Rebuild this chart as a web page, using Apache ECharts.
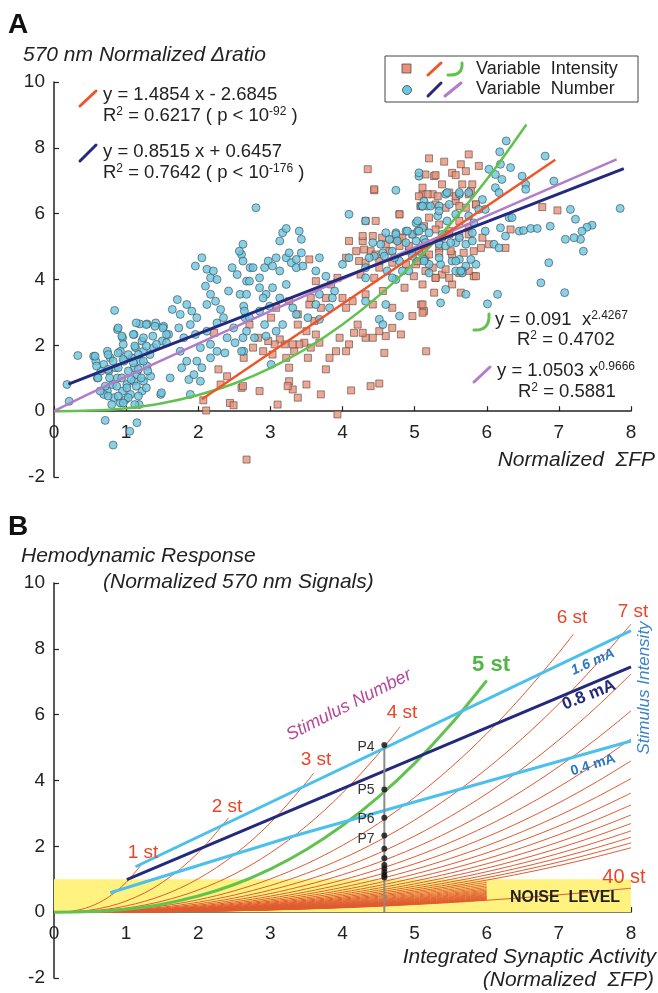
<!DOCTYPE html>
<html>
<head>
<meta charset="utf-8">
<script src="https://cdn.jsdelivr.net/npm/echarts@6/dist/echarts.min.js"></script>
<style>
  html, body { margin: 0; padding: 0; background: #fff; }
  #main { width: 658px; height: 993px; }
</style>
</head>
<body>
<div id="main"></div>
<script>
// ---------- panel A : measured points ----------
// Variable Intensity (squares)
const squarePts = [
  [2.22,2.38],[2.28,1.27],[2.63,1.62],[2.07,0.33],[2.11,0.02],[2.31,0.81],[2.44,0.25],[2.49,0.18],[2.60,0.71],[2.67,-1.47],[2.40,1.06],
  [4.35,7.35],[4.44,6.71],[5.11,6.59],[4.46,5.78],[4.79,5.98],[3.54,4.61],[4.05,4.66],[4.09,5.17],[4.28,5.17],[4.19,4.86],
  [4.23,4.56],[4.39,4.86],[4.51,4.56],[4.60,5.07],[4.79,5.27],[4.92,4.86],[5.02,4.46],[4.86,3.75],[5.09,3.24],[4.97,2.89],
  [5.13,3.04],[5.16,1.82],[4.58,1.77],[4.81,2.33],[4.69,2.53],[4.60,2.28],[4.51,2.43],[4.42,2.23],[4.32,2.23],[4.28,2.38],
  [4.21,2.63],[4.16,2.38],[4.09,2.03],[4.05,1.82],[3.96,2.23],[3.91,1.82],[3.82,1.62],[3.77,1.27],[3.68,2.08],[3.63,2.33],
  [3.61,2.74],[3.56,1.93],[3.50,2.43],[3.47,2.08],[3.52,1.62],[3.54,3.24],[3.70,3.14],[3.77,3.44],[3.84,3.85],[3.93,4.05],
  [4.00,3.44],[4.05,3.14],[4.14,3.34],[4.32,3.55],[4.42,3.24],[4.56,3.65],[4.69,3.14],[3.40,2.03],[3.33,1.82],[3.31,2.03],
  [3.26,1.32],[3.22,1.62],[3.20,2.03],[3.13,2.18],[3.03,1.72],[3.06,2.03],[2.97,2.13],[2.90,1.82],[2.83,2.23],[2.76,1.93],
  [2.71,2.63],[3.01,2.84],[3.08,3.14],[3.26,3.34],[3.38,2.63],[3.50,0.81],[3.38,0.41],[3.31,0.66],[3.26,0.91],[3.24,0.76],
  [3.10,0.20],[2.85,0.61],[2.62,0.76],[3.70,0.51],[4.12,0.63],[4.39,0.76],[4.51,0.84],[3.93,-0.10],[3.63,3.95],[3.56,3.44],
  [3.38,2.94],
  [5.20,7.68],[5.41,7.58],[5.75,7.80],[5.64,7.50],[5.52,7.24],[5.89,7.45],[5.27,7.14],[5.15,7.19],[5.11,6.79],[5.25,6.59],
  [5.38,6.89],[5.48,6.64],[5.66,6.89],[5.78,6.69],[5.57,6.38],[5.43,6.18],[5.29,6.28],[5.71,6.18],[5.85,6.28],[5.62,5.78],
  [5.48,5.47],[5.34,5.67],[5.20,5.88],[5.75,5.57],[5.94,5.27],[6.03,5.07],[6.26,4.96],[6.33,5.52],[5.92,4.96],[5.52,4.76],
  [5.34,4.96],[5.15,4.66],[5.25,4.36],[5.38,4.15],[5.29,4.05],[5.52,3.85],[5.82,4.10],[5.64,3.60],[5.27,3.60],[5.11,3.85],
  [6.77,6.20],[6.98,6.10],[5.11,3.24],[5.11,2.99],
  [5.29,7.17],[5.57,7.17],[5.71,7.29],[5.06,6.53],[5.18,6.59],[5.32,6.53],[5.57,6.53],[5.75,6.59],[4.44,6.74],[4.79,5.98],
  [4.32,5.78],[5.08,6.23],[5.62,6.23],[5.85,6.28],[5.80,6.89],[4.28,5.32],[4.42,5.32],[4.55,5.27],[4.69,5.22],[4.83,5.27],
  [4.97,5.37],[5.13,5.62],[5.29,5.52],[5.48,5.37],[5.62,5.32],[5.75,5.37],[4.30,4.91],[4.46,4.76],[4.65,4.86],[4.79,5.02],
  [4.92,5.02],[5.06,4.86],[5.20,4.76],[5.34,4.81],[5.50,4.86],[5.68,4.81],[5.82,4.86],[4.32,4.51],[4.51,4.36],[4.69,4.51],
  [4.88,4.46],[5.04,4.56],[5.15,4.26],[5.43,4.31],[5.62,4.20],[5.75,4.26],[4.25,4.15],[4.44,4.05],[4.99,4.10],[5.29,4.05],
  [5.48,4.05],[5.85,4.10]
];
// Variable Number (circles)
const circlePts = [
  [0.18,0.81],[0.21,0.30],[0.33,1.69],[0.55,1.67],[0.58,1.52],[0.71,-0.28],[0.82,-1.03],[0.84,3.06],[0.88,2.48],[0.74,1.82],
  [0.78,1.62],[0.69,1.42],[0.65,1.22],[0.60,1.01],[0.76,1.22],[0.85,1.32],[0.92,1.82],[0.95,2.23],[0.97,1.52],[0.88,1.01],
  [0.81,0.81],[0.74,0.61],[0.83,0.41],[0.92,0.25],[0.99,0.35],[1.06,0.51],[1.01,0.81],[1.11,0.91],[1.15,1.11],[1.11,1.32],
  [1.08,1.62],[1.13,1.93],[1.11,2.33],[1.19,2.65],[1.29,2.65],[1.22,2.13],[1.24,1.82],[1.20,1.52],[1.29,1.37],[1.34,1.06],
  [1.24,0.91],[1.18,0.20],[1.15,-0.35],[1.05,-0.61],[1.22,0.61],[0.95,0.61],[0.69,0.51],[1.41,2.68],[1.38,1.93],[1.48,0.51],
  [1.52,2.58],[1.59,2.33],[1.61,1.01],[1.50,2.13],[1.64,3.09],[1.71,3.39],[1.75,2.94],[1.73,2.53],[1.80,2.23],[1.75,1.82],
  [1.77,1.32],[1.84,1.52],[1.87,0.96],[1.89,0.51],[1.94,1.11],[1.84,3.24],[1.91,3.04],[1.98,2.84],[1.89,2.63],[1.96,2.33],
  [2.03,1.93],[1.98,1.52],[2.05,1.32],[2.03,0.91],[1.96,4.41],[2.05,4.66],[2.12,4.31],[2.17,4.05],[2.21,4.26],[2.26,4.00],
  [2.10,3.80],[2.17,3.55],[2.24,3.34],[2.12,3.24],[2.31,3.09],[2.35,2.84],[2.26,2.68],[2.12,2.43],[2.17,2.03],[2.26,1.82],
  [2.17,1.62],[2.40,2.23],[2.37,1.77],[2.49,2.53],[2.51,2.08],[2.63,1.82],[2.54,4.15],[2.47,4.36],[2.60,4.76],[2.67,3.95],
  [2.58,3.55],[2.63,3.19],[2.65,2.84],[2.72,4.36],[2.42,3.65],
  [0.89,2.53],[1.14,2.68],[1.28,2.63],[1.40,2.58],[1.51,2.53],[0.94,2.28],[1.10,2.33],[1.24,2.23],[1.37,2.28],[1.56,2.33],
  [0.96,2.03],[1.12,1.98],[1.28,1.98],[1.42,2.03],[1.56,2.08],[0.57,1.67],[0.75,1.72],[0.89,1.77],[1.03,1.72],[1.17,1.72],
  [1.33,1.72],[0.82,1.52],[0.96,1.57],[1.10,1.47],[1.24,1.52],[0.75,1.27],[0.89,1.32],[1.03,1.22],[1.17,1.27],[1.30,1.22],
  [0.61,1.01],[0.77,1.01],[0.94,1.01],[1.07,0.96],[1.21,1.01],[0.71,0.76],[0.87,0.76],[1.01,0.71],[1.14,0.76],[1.28,0.71],
  [1.49,0.56],[0.75,0.46],[0.89,0.46],[1.03,0.41],[1.17,0.46],[0.80,0.20],[0.96,0.25],[1.12,0.20],[0.64,0.61],[0.59,1.37],
  [2.80,6.18],[3.17,5.42],[3.22,5.55],[3.13,5.17],[3.40,5.47],[3.43,5.22],[2.62,5.07],[2.57,4.86],[2.62,4.56],[2.76,4.36],
  [2.85,4.05],[2.71,3.95],[2.92,4.36],[2.97,4.56],[3.03,4.41],[3.08,4.66],[3.13,4.26],[3.22,4.66],[3.29,4.51],[3.26,4.81],
  [3.36,4.61],[3.43,4.81],[3.36,4.36],[3.45,4.41],[2.85,3.75],[2.94,3.55],[3.03,3.75],[2.90,3.44],[2.99,3.19],[3.13,3.44],
  [3.22,3.85],[3.31,3.14],[3.36,2.94],[2.67,3.55],[2.64,3.04],[2.71,2.84],[2.67,2.43],[2.78,2.23],[2.62,2.23],[2.92,2.63],
  [2.85,3.04],[2.60,1.82],[2.94,2.28],[3.17,2.63],[3.08,2.43],[3.01,1.42],[3.68,4.66],[3.63,4.26],[3.77,4.10],[3.89,3.65],
  [3.86,3.44],[3.68,3.55],[3.63,3.24],[3.82,3.14],[3.68,2.79],[3.52,2.84],[4.00,4.46],[4.09,4.66],[4.32,4.36],[4.44,4.71],
  [4.56,4.81],[4.65,5.22],[4.74,5.42],[4.88,5.47],[4.97,5.37],[5.02,5.72],[5.11,5.57],[5.13,5.22],[5.06,4.86],[4.69,4.86],
  [4.79,4.56],[4.92,4.26],[4.74,4.00],[4.60,3.24],[4.51,2.79],[4.79,2.89],[4.56,2.63],[4.32,3.34],[5.09,6.23],[5.13,6.38],
  [5.06,7.14],[4.32,5.78],[4.09,5.98],[4.74,6.71],
  [5.11,6.23],[5.18,6.23],[5.34,6.23],[5.48,6.28],[5.62,6.59],[5.43,6.59],[5.04,5.78],[5.32,5.93],[5.45,5.78],[5.57,5.98],
  [5.75,5.93],[5.82,5.72],[4.60,5.42],[4.74,5.37],[4.90,5.47],[5.04,5.47],[5.20,5.42],[5.38,5.27],[4.42,5.12],[4.53,5.07],
  [4.76,5.17],[4.88,5.12],[5.02,5.17],[5.15,5.12],[5.34,5.07],[5.43,5.02],[5.57,5.12],[5.71,5.07],[4.37,4.66],[4.58,4.71],
  [4.72,4.66],[4.97,4.71],[5.13,4.61],[5.36,4.46],[5.52,4.56],[5.62,4.61],[5.71,4.41],[5.85,4.46],[4.62,4.26],[4.83,4.26],
  [5.20,4.20],[5.57,4.26],[5.66,4.26],[4.32,4.05],[4.69,4.05],
  [6.27,8.21],[6.18,7.88],[6.81,7.75],[6.19,7.50],[6.33,7.40],[6.03,7.35],[6.12,7.19],[6.49,7.14],[6.54,6.89],[6.54,6.74],
  [6.93,6.99],[6.21,7.04],[6.12,6.79],[6.17,6.64],[5.94,6.43],[5.75,6.64],[5.45,6.64],[5.62,6.64],[5.06,7.24],[5.11,6.23],
  [5.22,6.23],[5.34,6.08],[6.31,5.88],[6.35,5.88],[6.19,5.57],[6.45,5.47],[6.51,5.49],[6.61,5.55],[6.70,5.55],[6.88,5.62],
  [7.85,6.16],[7.16,6.13],[7.23,5.83],[7.46,5.65],[7.39,5.59],[7.32,5.47],[7.30,5.22],[7.21,5.27],[7.09,5.22],[7.34,4.86],
  [6.86,4.51],[6.75,3.90],[7.08,3.60],[6.15,3.55],[6.01,3.26],[5.78,4.61],[5.66,4.20],[5.64,4.26],[5.71,3.55],[5.57,4.56],
  [5.80,5.17],[5.98,5.47],[6.10,5.07],[6.17,4.96],[6.26,5.32],[5.80,5.42],[5.62,5.27],[5.50,5.12],[5.34,4.66],[5.20,4.46],
  [5.36,3.29],[5.43,3.70],[5.13,4.56],[5.06,5.47],[5.38,5.37],[5.98,6.13],[5.89,6.13]
];
// fitted curves (values read along the printed fits)
const redFit = [[2.05,0.36],[6.95,7.64]];
const navyFit = [[0.2,0.82],[7.9,7.37]];
const greenFit = [[0,0],[0.5,0.017],[1,0.091],[1.5,0.243],[2,0.489],[2.5,0.841],[3,1.309],[3.5,1.903],[4,2.631],[4.5,3.501],[5,4.521],[5.5,5.698],[6,7.037],[6.55,8.71]];
const purpleFit = [[0,0],[0.5,0.537],[1,1.050],[2,2.053],[3,3.037],[4,4.011],[5,4.977],[6,5.936],[7,6.890],[7.8,7.648]];

// ---------- panel B : model curves ----------
const shortStim = [
  [[0,0],[0.25,0.031],[0.5,0.168],[0.75,0.450],[1,0.905],[1.22,1.47]],
  [[0,0],[0.5,0.063],[1,0.337],[1.5,0.900],[2,1.809],[2.42,2.87]],
  [[0,0],[0.5,0.035],[1,0.189],[1.5,0.505],[2,1.015],[2.5,1.744],[3,2.714],[3.5,3.946],[3.6,4.225]],
  [[0,0],[0.5,0.023],[1,0.125],[1.5,0.335],[2,0.673],[2.5,1.157],[3,1.800],[3.5,2.618],[4,3.620],[4.5,4.816],[4.8,5.64]],
  null, // 5 st is drawn in green
  [[0,0],[0.5,0.013],[1,0.070],[1.5,0.188],[2,0.377],[2.5,0.648],[3,1.009],[3.5,1.467],[4,2.028],[4.5,2.699],[5,3.486],[5.5,4.393],[6,5.425],[6.5,6.589],[7,7.886],[7.2,8.44]]
];
const stim5 = [[0,0],[0.5,0.017],[1,0.091],[1.5,0.243],[2,0.489],[2.5,0.841],[3,1.309],[3.5,1.903],[4,2.631],[4.5,3.501],[5,4.521],[5.5,5.698],[6,7.037]];
const stimX = [0,0.5,1,1.5,2,2.5,3,3.5,4,4.5,5,5.5,6,6.5,7,7.5,8];
const longStim = [
  [0,.010,.056,.151,.303,.521,.810,1.178,1.629,2.167,2.798,3.527,4.356,5.290,6.331,7.486,8.754],
  [0,.0087,.0466,.125,.250,.430,.670,.974,1.346,1.791,2.313,2.916,3.600,4.372,5.233,6.188,7.235],
  [0,.0073,.0394,.105,.212,.364,.566,.823,1.138,1.514,1.955,2.464,3.043,3.695,4.423,5.230,6.115],
  [0,.0063,.0339,.0906,.182,.313,.487,.708,.979,1.303,1.683,2.121,2.619,3.181,3.807,4.501,5.263],
  [0,.0055,.0296,.0791,.159,.273,.425,.618,.855,1.137,1.469,1.851,2.286,2.776,3.323,3.929,4.594],
  [0,.0049,.0261,.0698,.140,.241,.375,.546,.755,1.004,1.297,1.635,2.019,2.452,2.935,3.470,4.057],
  [0,.0043,.0233,.0623,.125,.215,.335,.487,.673,.896,1.157,1.458,1.801,2.187,2.618,3.095,3.619],
  [0,.0039,.0210,.0561,.113,.194,.301,.438,.606,.806,1.041,1.313,1.621,1.968,2.356,2.786,3.257],
  [0,.0035,.0190,.0508,.102,.175,.273,.397,.549,.731,.943,1.189,1.469,1.783,2.134,2.524,2.951],
  [0,.0032,.0173,.0463,.0931,.160,.249,.362,.501,.666,.860,1.085,1.339,1.627,1.947,2.302,2.692],
  [0,.0030,.0159,.0425,.0854,.147,.229,.332,.459,.611,.789,.995,1.229,1.492,1.786,2.112,2.469],
  [0,.0027,.0146,.0392,.0787,.135,.211,.306,.423,.563,.727,.917,1.132,1.375,1.646,1.946,2.275],
  [0,.0025,.0136,.0362,.0729,.125,.195,.283,.392,.521,.673,.849,1.048,1.272,1.523,1.801,2.106],
  [0,.0023,.0126,.0337,.0677,.116,.181,.263,.364,.484,.625,.788,.974,1.182,1.415,1.673,1.957],
  [0,.0009,.0047,.0125,.0252,.0433,.0674,.098,.135,.180,.233,.293,.362,.440,.527,.623,.728]
];
const wedgeX = [0,1,2,3,4,5,6];
const wedgeStim = [
  [0,.0117,.0632,.169,.340,.584,.908],[0,.0110,.0591,.158,.318,.546,.850],[0,.0103,.0555,.148,.298,.512,.798],
  [0,.0097,.0522,.140,.281,.482,.751],[0,.0092,.0492,.132,.265,.455,.708],[0,.0087,.0466,.125,.250,.430,.670],
  [0,.0082,.0441,.118,.237,.408,.635],[0,.0078,.0419,.112,.225,.387,.602],[0,.0074,.0398,.107,.214,.368,.573],
  [0,.0071,.0380,.102,.204,.351,.546],[0,.0067,.0362,.0969,.195,.335,.521],[0,.0064,.0346,.0926,.186,.320,.498],
  [0,.0062,.0331,.0886,.178,.306,.477],[0,.0059,.0318,.0849,.171,.293,.457],[0,.0057,.0305,.0815,.164,.282,.438],
  [0,.0054,.0293,.0783,.157,.270,.421],[0,.0052,.0281,.0753,.151,.260,.405],[0,.0050,.0271,.0725,.146,.250,.390],
  [0,.0049,.0261,.0698,.140,.241,.376]
];
const int16 = [[1.13,1.38],[8,8.55]];
const int08 = [[1.01,0.99],[8,7.45]];
const int04 = [[0.78,0.59],[3.3,2.3],[8,5.2]];
const pLineX = 4.58;
const pLineTop = 5.1;
const pDots = [5.08,3.73,2.87,2.33,1.93,1.64,1.43,1.33,1.22,1.12,1.05];
const noiseLevel = 1.0;

const FONT = '"Liberation Sans", Arial, Helvetica, sans-serif';
const RED = '#f0552a', NAVY = '#232a7c', GREEN = '#62c250', PURPLE = '#b27cc8', SKY = '#4cc0ec', THIN = '#e05a30';

let chart = echarts.init(document.getElementById('main'), null, { renderer: 'canvas' });

function xAx (gi) {
  return {
    type: 'value', gridIndex: gi, min: 0, max: 8, interval: 1,
    axisLine: { onZero: true, lineStyle: { color: '#222', width: 1.5 } },
    axisTick: { inside: true, length: 5, lineStyle: { color: '#222', width: 1.2 } },
    // the labels stay at the grid edge, so pull them up under the zero line
    axisLabel: { fontSize: 19, color: '#222', fontFamily: FONT, margin: -54 },
    splitLine: { show: false }
  };
}
function yAx (gi) {
  return {
    type: 'value', gridIndex: gi, min: -2, max: 10, interval: 2,
    axisLine: { show: true, onZero: false, lineStyle: { color: '#222', width: 1.5 } },
    axisTick: { show: true, inside: true, length: 5, lineStyle: { color: '#222', width: 1.2 } },
    axisLabel: { fontSize: 19, color: '#222', fontFamily: FONT, margin: 9 },
    splitLine: { show: false }
  };
}
function lineS (gi, data, color, width, smooth, z) {
  return {
    type: 'line', xAxisIndex: gi, yAxisIndex: gi, data: data, showSymbol: false, symbol: 'none',
    smooth: smooth ? 0.35 : false, silent: true, z: z || 3,
    lineStyle: { color: color, width: width }
  };
}

let series = [];
// panel A
series.push({
  type: 'scatter', xAxisIndex: 0, yAxisIndex: 0, data: squarePts, symbol: 'rect', symbolSize: 7, z: 2,
  itemStyle: { color: '#e8927a', borderColor: '#5a4a44', borderWidth: 0.8 }
});
series.push({
  type: 'scatter', xAxisIndex: 0, yAxisIndex: 0, data: circlePts, symbol: 'circle', symbolSize: 8, z: 2,
  itemStyle: { color: '#6cc6e0', borderColor: '#3a4a50', borderWidth: 0.8 }
});
series.push(lineS(0, greenFit, GREEN, 2.5, true));
series.push(lineS(0, purpleFit, PURPLE, 2.5, true));
series.push(lineS(0, redFit, RED, 2.5, false));
series.push(lineS(0, navyFit, NAVY, 3, false));

// panel B : noise band
series.push({
  type: 'line', xAxisIndex: 1, yAxisIndex: 1, data: [], silent: true,
  markArea: {
    silent: true,
    itemStyle: { color: '#fff27e' },
    data: [[{ coord: [0, 0] }, { coord: [8, noiseLevel] }]]
  }
});
wedgeStim.forEach(function (row) {
  series.push(lineS(1, row.map(function (v, i) { return [wedgeX[i], v]; }), THIN, 0.9, true));
});
longStim.forEach(function (row) {
  series.push(lineS(1, row.map(function (v, i) { return [stimX[i], v]; }), THIN, 1, true));
});
shortStim.forEach(function (pts) {
  if (pts) series.push(lineS(1, pts, THIN, 1, true));
});
series.push(lineS(1, stim5, GREEN, 3, true, 4));
series.push(lineS(1, int04, SKY, 3, false, 4));
series.push(lineS(1, int16, SKY, 3, false, 4));
series.push(lineS(1, int08, NAVY, 3, false, 4));
series.push(lineS(1, [[pLineX, 0], [pLineX, pLineTop]], '#8a8a8a', 2, false, 5));
series.push({
  type: 'scatter', xAxisIndex: 1, yAxisIndex: 1, symbolSize: 6, z: 6, silent: true,
  data: pDots.map(function (v) { return [pLineX, v]; }),
  itemStyle: { color: '#111' }
});

// ---------- texts ----------
function txt (text, x, y, st, rot) {
  return {
    type: 'text', x: x, y: y, rotation: rot || 0, silent: true, z: 100,
    style: Object.assign({ text: text, fontFamily: FONT, fontSize: 18, fill: '#222', align: 'left', verticalAlign: 'middle' }, st || {})
  };
}
const rich = {
  a: { fontFamily: FONT, fontSize: 18.5, fill: '#222', lineHeight: 20 },
  s: { fontFamily: FONT, fontSize: 12, fill: '#222', lineHeight: 12, verticalAlign: 'top' }
};
function eq (text, x, y) {
  return txt(text, x, y, { rich: rich });
}
function seg (x1, y1, x2, y2, color) {
  return { type: 'line', silent: true, z: 100, shape: { x1: x1, y1: y1, x2: x2, y2: y2 }, style: { stroke: color, lineWidth: 3, lineCap: 'round' } };
}
function hook (x1, y1, x2, y2, color) {
  return {
    type: 'bezierCurve', silent: true, z: 100,
    shape: { x1: x1, y1: y1, x2: x2, y2: y2, cpx1: x2 + 1, cpy1: y1 + 1 },
    style: { stroke: color, lineWidth: 3, fill: null, lineCap: 'round' }
  };
}

let graphic = [
  txt('A', 8, 25, { fontSize: 28, fontWeight: 'bold', fill: '#111' }),
  txt('570 nm Normalized \u0394ratio', 23, 55, { fontSize: 21, fontStyle: 'italic' }),
  txt('Normalized  \u03a3FP', 655, 460, { fontSize: 21, fontStyle: 'italic', align: 'right' }),
  seg(80, 106, 96, 91, RED),
  eq('{a|y = 1.4854 x - 2.6845}', 103, 95),
  eq('{a|R}{s|2}{a| = 0.6217 ( p < 10}{s|-92}{a| )}', 103, 116),
  seg(80, 161, 96, 145, NAVY),
  eq('{a|y = 0.8515 x + 0.6457}', 103, 152),
  eq('{a|R}{s|2}{a| = 0.7642 ( p < 10}{s|-176}{a| )}', 103, 173),
  hook(474, 330, 489, 314, GREEN),
  eq('{a|y = 0.091  x}{s|2.4267}', 495, 320),
  eq('{a|R}{s|2}{a| = 0.4702}', 517, 340),
  seg(474, 382, 490, 367, PURPLE),
  eq('{a|y = 1.0503 x}{s|0.9666}', 497, 371),
  eq('{a|R}{s|2}{a| = 0.5881}', 518, 392),
  // legend box
  { type: 'rect', silent: true, z: 99, shape: { x: 385, y: 56, width: 253, height: 46 }, style: { fill: '#fff', stroke: '#444', lineWidth: 1 } },
  { type: 'rect', silent: true, z: 100, shape: { x: 402, y: 64, width: 9, height: 9 }, style: { fill: '#e8927a', stroke: '#5a4a44', lineWidth: 0.8 } },
  { type: 'circle', silent: true, z: 100, shape: { cx: 407, cy: 90, r: 4.5 }, style: { fill: '#6cc6e0', stroke: '#3a4a50', lineWidth: 0.8 } },
  seg(428, 75, 441, 63, RED),
  hook(448, 75, 462, 63, GREEN),
  seg(428, 96, 441, 83, NAVY),
  seg(445, 96, 461, 83, PURPLE),
  txt('Variable  Intensity', 476, 69, { fontSize: 18 }),
  txt('Variable  Number', 476, 89, { fontSize: 18 }),

  // panel B
  txt('B', 8, 527, { fontSize: 28, fontWeight: 'bold', fill: '#111' }),
  txt('Hemodynamic Response', 21, 556, { fontSize: 21, fontStyle: 'italic' }),
  txt('(Normalized 570 nm Signals)', 103, 582, { fontSize: 21, fontStyle: 'italic' }),
  txt('Integrated Synaptic Activity', 656, 957, { fontSize: 21, fontStyle: 'italic', align: 'right' }),
  txt('(Normalized  \u03a3FP)', 654, 980, { fontSize: 21, fontStyle: 'italic', align: 'right' }),
  txt('1 st', 143, 853, { fontSize: 19, fill: '#e8462a', align: 'center' }),
  txt('2 st', 227, 807, { fontSize: 19, fill: '#e8462a', align: 'center' }),
  txt('3 st', 316, 760, { fontSize: 19, fill: '#e8462a', align: 'center' }),
  txt('4 st', 402, 713, { fontSize: 19, fill: '#e8462a', align: 'center' }),
  txt('5 st', 491, 665, { fontSize: 22, fontWeight: 'bold', fill: '#52b646', align: 'center' }),
  txt('6 st', 572, 618, { fontSize: 19, fill: '#e8462a', align: 'center' }),
  txt('7 st', 633, 612, { fontSize: 19, fill: '#e8462a', align: 'center' }),
  txt('40 st', 624, 877, { fontSize: 20, fill: '#e8462a', align: 'center' }),
  txt('NOISE  LEVEL', 565, 898, { fontSize: 16, fontWeight: 'bold', fill: '#222', align: 'center' }),
  txt('Stimulus Number', 349, 705, { fontSize: 18, fontStyle: 'italic', fill: '#b5489a', align: 'center' }, 0.47),
  txt('1.6 mA', 593, 662, { fontSize: 14, fontStyle: 'italic', fontWeight: 'bold', fill: '#2a78c0', align: 'center' }, 0.42),
  txt('0.8 mA', 589, 695, { fontSize: 17, fontWeight: 'bold', fill: NAVY, align: 'center' }, 0.38),
  txt('0.4 mA', 593, 765, { fontSize: 14, fontWeight: 'bold', fill: '#2a78c0', align: 'center' }, 0.3),
  txt('Stimulus Intensity', 644, 688, { fontSize: 17, fontStyle: 'italic', fill: '#3c82c8', align: 'center' }, Math.PI / 2),
  txt('P4', 366, 747, { fontSize: 14, fill: '#333', align: 'center' }),
  txt('P5', 366, 790, { fontSize: 14, fill: '#333', align: 'center' }),
  txt('P6', 366, 819, { fontSize: 14, fill: '#333', align: 'center' }),
  txt('P7', 366, 839, { fontSize: 14, fill: '#333', align: 'center' })
];

chart.setOption({
  animation: false,
  backgroundColor: '#fff',
  grid: [
    { left: 54, top: 82, width: 577, height: 395, outerBoundsMode: 'none' },
    { left: 54, top: 583, width: 577, height: 395, outerBoundsMode: 'none' }
  ],
  xAxis: [xAx(0), xAx(1)],
  yAxis: [yAx(0), yAx(1)],
  series: series,
  graphic: graphic
});
</script>
</body>
</html>
